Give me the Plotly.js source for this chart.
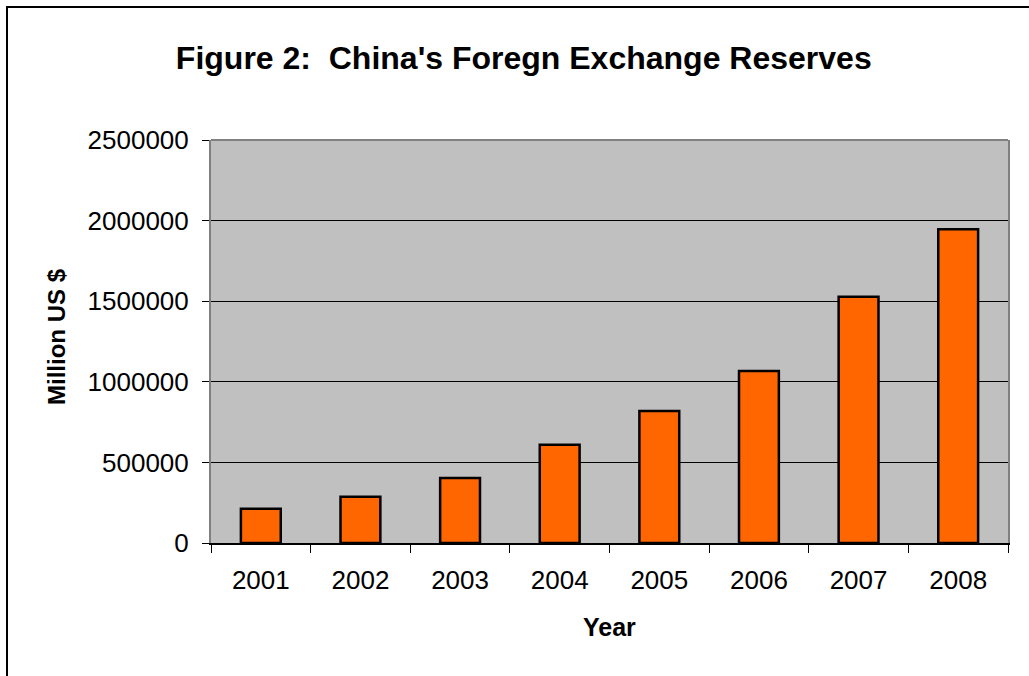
<!DOCTYPE html>
<html>
<head>
<meta charset="utf-8">
<script src="https://cdn.plot.ly/plotly-3.0.1.min.js"></script>
<style>
html, body { margin: 0; padding: 0; background: #ffffff; }
#wrap { position: relative; width: 1029px; height: 676px; overflow: hidden; }
#chart { position: absolute; left: 0; top: 0; width: 1029px; height: 676px; }
#frame { position: absolute; left: 6px; top: 6px; width: 1040px; height: 700px; border: 2px solid #000; box-sizing: border-box; pointer-events: none; }
</style>
</head>
<body>
<div id="wrap">
<div id="chart"></div>
<div id="frame"></div>
</div>
<script>
const years = ['2001', '2002', '2003', '2004', '2005', '2006', '2007', '2008'];
const reserves = [212165, 286407, 403251, 609932, 818872, 1066344, 1528249, 1946030];
const yTicks = [0, 500000, 1000000, 1500000, 2000000, 2500000];
const yTickLabels = ['0', '500000', '1000000', '1500000', '2000000', '2500000'];

const font = 'Liberation Sans, Arial, Helvetica, sans-serif';

const trace = {
  type: 'bar',
  x: years,
  y: reserves,
  marker: { color: '#FF6600', line: { color: '#000000', width: 2.5 } },
  hoverinfo: 'x+y'
};

const layout = {
  width: 1029,
  height: 676,
  margin: { l: 211, r: 21, t: 140, b: 133 },
  paper_bgcolor: 'rgba(0,0,0,0)',
  plot_bgcolor: '#C0C0C0',
  bargap: 0.6,
  showlegend: false,
  font: { family: font, color: '#000000', size: 26 },
  title: {
    text: "<b>Figure 2:  China's Foregn Exchange Reserves</b>",
    font: { family: font, size: 32, color: '#000' },
    x: 0.509, xanchor: 'center',
    y: 0.914, yanchor: 'middle'
  },
  xaxis: {
    type: 'category',
    tickson: 'boundaries',
    ticks: 'outside', ticklen: 8, tickcolor: '#000', tickwidth: 1,
    ticklabelstandoff: 13,
    showline: true, linecolor: '#000', linewidth: 1.5,
    showgrid: false,
    tickfont: { family: font, size: 26 },
    automargin: false
  },
  yaxis: {
    range: [0, 2500000],
    tickvals: yTicks,
    ticktext: yTickLabels,
    ticks: 'outside', ticklen: 7, tickcolor: '#000', tickwidth: 1,
    ticklabelstandoff: 8,
    showline: true, linecolor: '#808080', linewidth: 2, mirror: true,
    showgrid: true, gridcolor: '#000', gridwidth: 1,
    zeroline: false,
    tickfont: { family: font, size: 26 },
    automargin: false
  },
  annotations: [
    { text: '<b>Year</b>', xref: 'paper', yref: 'paper', x: 0.5, y: -0.2084,
      xanchor: 'center', yanchor: 'middle', showarrow: false,
      font: { family: font, size: 25, color: '#000' } },
    { text: '<b>Million US $</b>', xref: 'paper', yref: 'paper', x: -0.1945, y: 0.5136,
      xanchor: 'center', yanchor: 'middle', textangle: -90, showarrow: false,
      font: { family: font, size: 24, color: '#000' } }
  ],
  shapes: [
    { type: 'line', xref: 'paper', yref: 'paper', x0: 0, x1: 1, y0: 1, y1: 1, line: { color: '#808080', width: 2 } }
  ]
};

Plotly.newPlot('chart', [trace], layout, { staticPlot: true, displayModeBar: false });
</script>
</body>
</html>
